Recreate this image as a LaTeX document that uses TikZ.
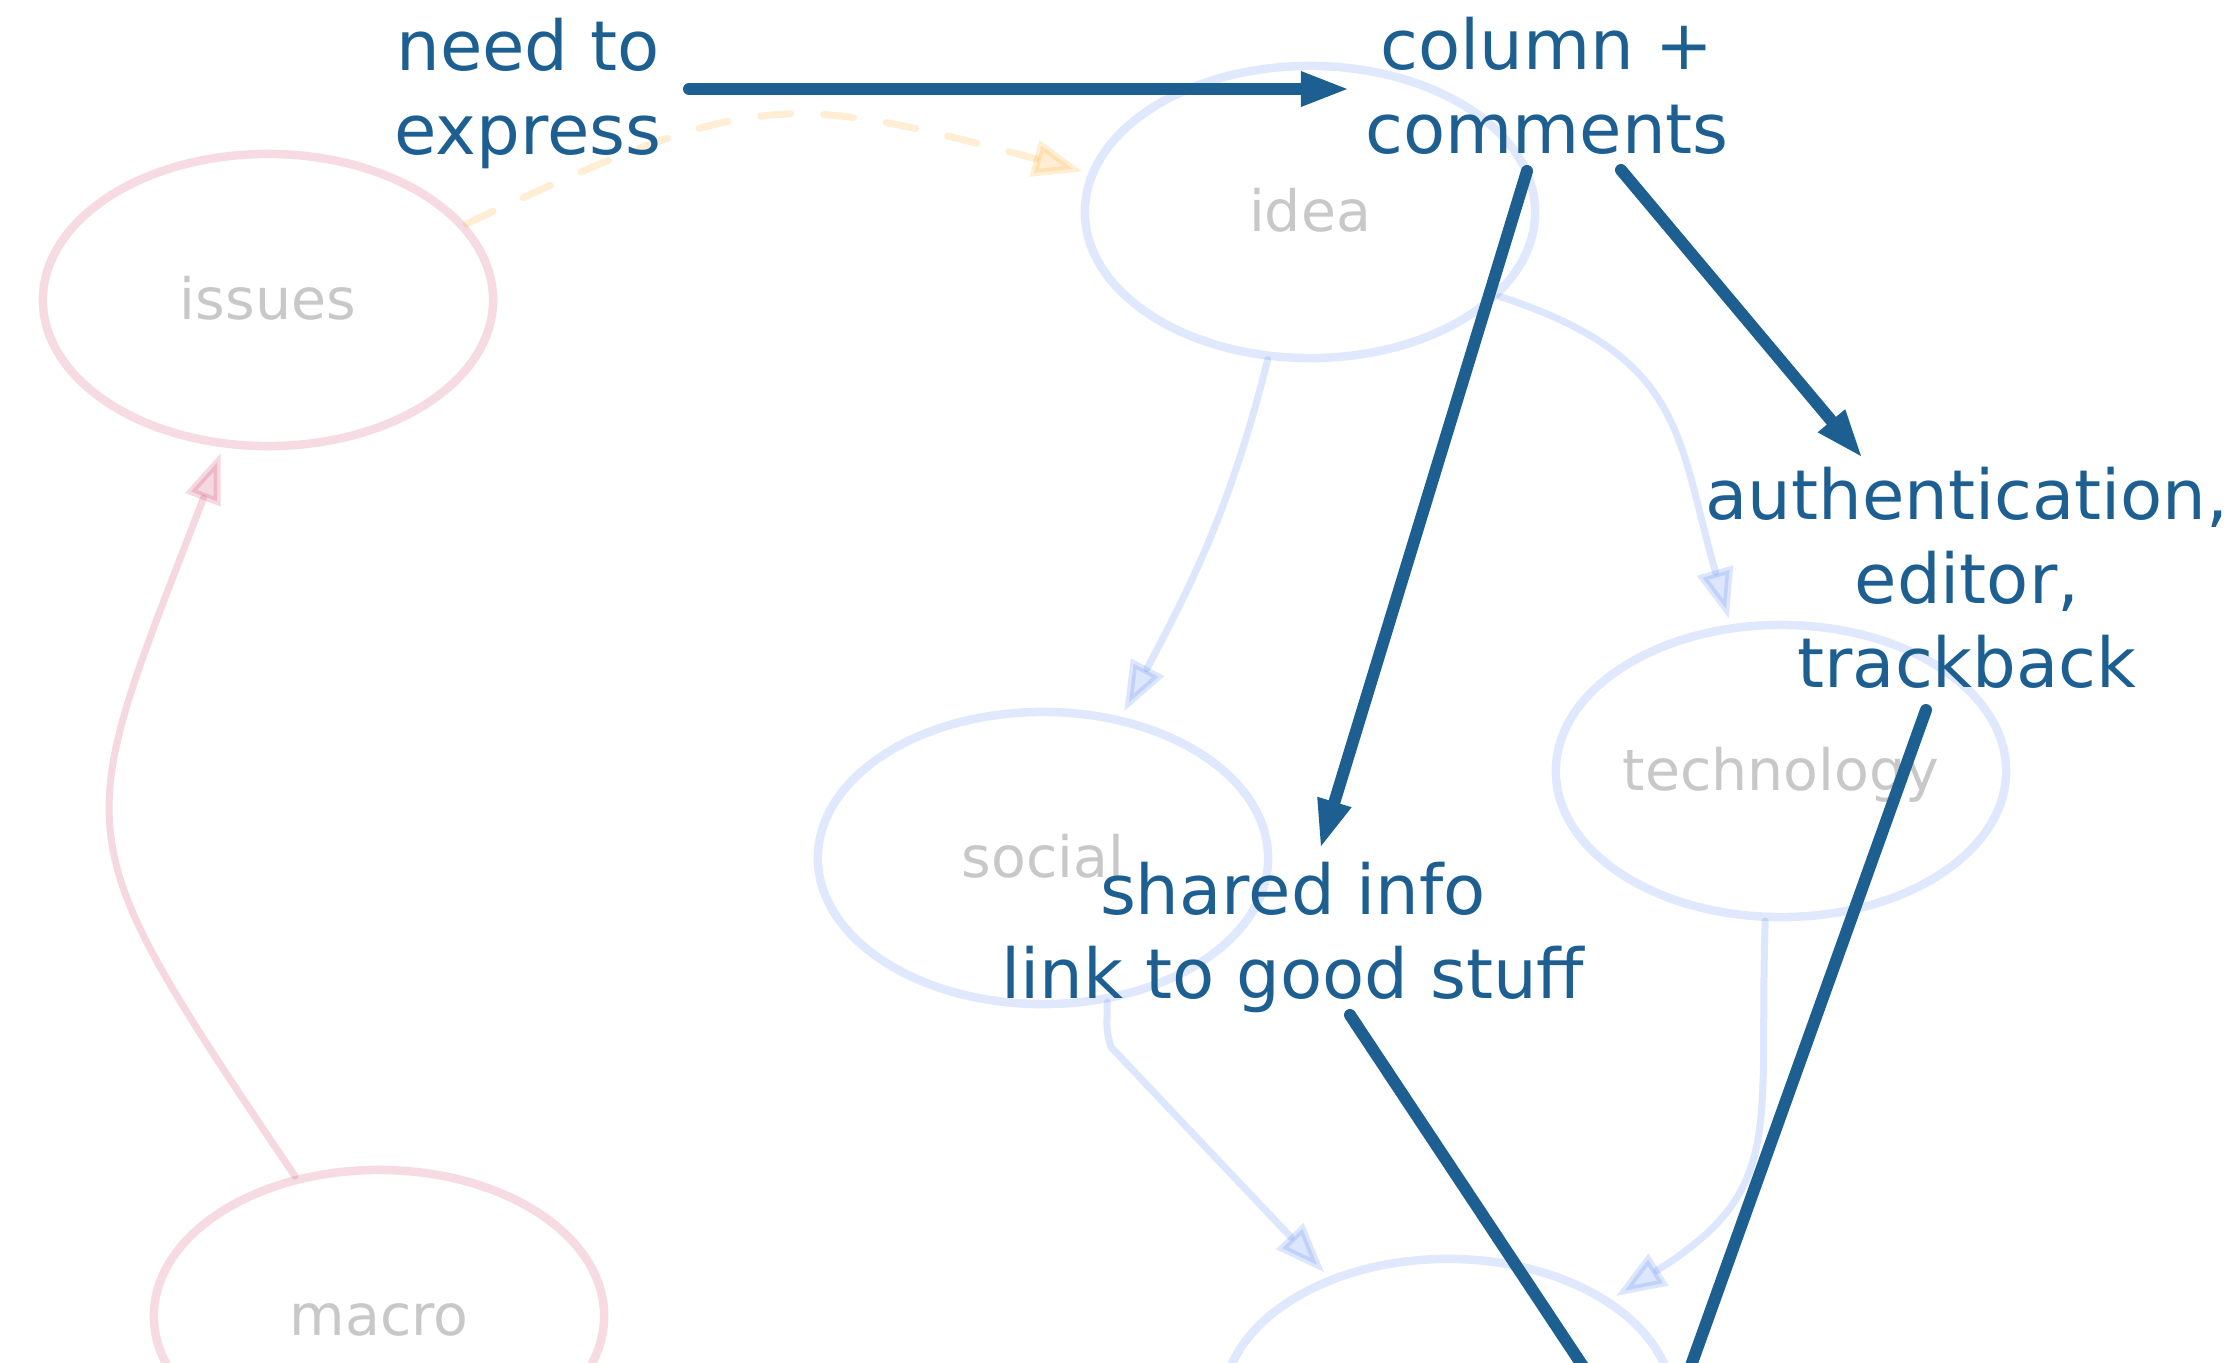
\documentclass[tikz,border=0pt]{standalone}
\usepackage{fontspec}
\setmainfont{DejaVu Sans}
\usetikzlibrary{arrows.meta,shapes.geometric}
\definecolor{dkblue}{RGB}{30,95,146}
\definecolor{lblue}{RGB}{80,130,240}
\definecolor{lpink}{RGB}{210,60,100}
\definecolor{lorange}{RGB}{255,170,40}
\definecolor{lgray}{RGB}{200,200,200}
\begin{document}
\begin{tikzpicture}[x=0.01cm,y=0.01cm,
  topic/.style={ellipse, draw=#1, draw opacity=0.18, line width=0.085cm,
    minimum width=4.5cm, minimum height=2.92cm, inner sep=0pt, text=lgray,
    font=\fontsize{16.2}{19}\selectfont, text height=1.1em, text depth=0pt},
  note/.style={text=dkblue, align=center, inner sep=0pt,
    font=\fontsize{19.6}{23.9}\selectfont},
  dark/.style={draw=dkblue, line width=0.12cm, line cap=round,
    -{Triangle[line width=0pt,length=0.46cm,width=0.36cm]}},
  faint/.style={draw=#1, line width=0.07cm, draw opacity=0.2, fill opacity=0.2,
    line cap=round, shorten >=0.06cm, -{Triangle[length=0.5cm,width=0.36cm,fill=#1]}}
]
\useasboundingbox (0,0) rectangle (2238,-1362);
\clip (0,0) rectangle (2238,-1362);
\fill[white] (0,0) rectangle (2238,-1362);

% topic ellipses
\node[topic=lpink] (issues) at (268,-300) {issues};
\node[topic=lblue] (idea) at (1310,-212) {idea};
\node[topic=lblue] (social) at (1043,-858) {social};
\node[topic=lblue] (technology) at (1781,-771) {technology};
\node[topic=lpink] (macro) at (379,-1316) {macro};
\node[topic=lblue] (bottom) at (1448,-1405) {};

% faint connectors
\draw[faint=lorange, dash pattern=on 0.3cm off 0.33cm]
  (issues.21) to[out=25,in=165,looseness=1.3] (idea.170);
\draw[faint=lpink] (macro.121) to[out=124,in=-111,looseness=1.48] (issues.253);
\draw[faint=lblue] (idea.254) to[out=-104,in=62] (social.61);
\draw[faint=lblue] (idea.-24) to[out=-18,in=106,looseness=1.25] (technology.109);
\draw[faint=lblue] (social.-66) .. controls +(0,-0.22cm) and +(-0.06cm,0.18cm) .. ++(0.04cm,-0.45cm) -- (bottom.133);
\draw[faint=lblue] (technology.-96) to[out=-92,in=32,looseness=1.3] (bottom.33);

% annotation texts
\node[note] (need) at (528,-93) {need to\\express};
\node[note] (column) at (1547,-86) {column +\\comments};
\node[note] (auth) at (1967,-578) {authentication,\\editor,\\trackback};
\node[note] (shared) at (1293,-937) {shared info\\link to good stuff};

% annotation arrow ends
\coordinate (needout) at (689,-89);
\coordinate (columnin) at (1347,-89);
\coordinate (columnout1) at (1527,-171);
\coordinate (sharedin) at (1321,-846);
\coordinate (columnout2) at (1621,-170);
\coordinate (authin) at (1861,-456);
\coordinate (sharedout) at (1350,-1015);
\coordinate (bottomin1) at (1665,-1490);
\coordinate (authout) at (1926,-710);
\coordinate (bottomin2) at (1650,-1480);

\draw[dark] (needout) -- (columnin);
\draw[dark] (columnout1) -- (sharedin);
\draw[dark] (columnout2) -- (authin);
\draw[dark] (sharedout) -- (bottomin1);
\draw[dark] (authout) -- (bottomin2);
\end{tikzpicture}
\end{document}
